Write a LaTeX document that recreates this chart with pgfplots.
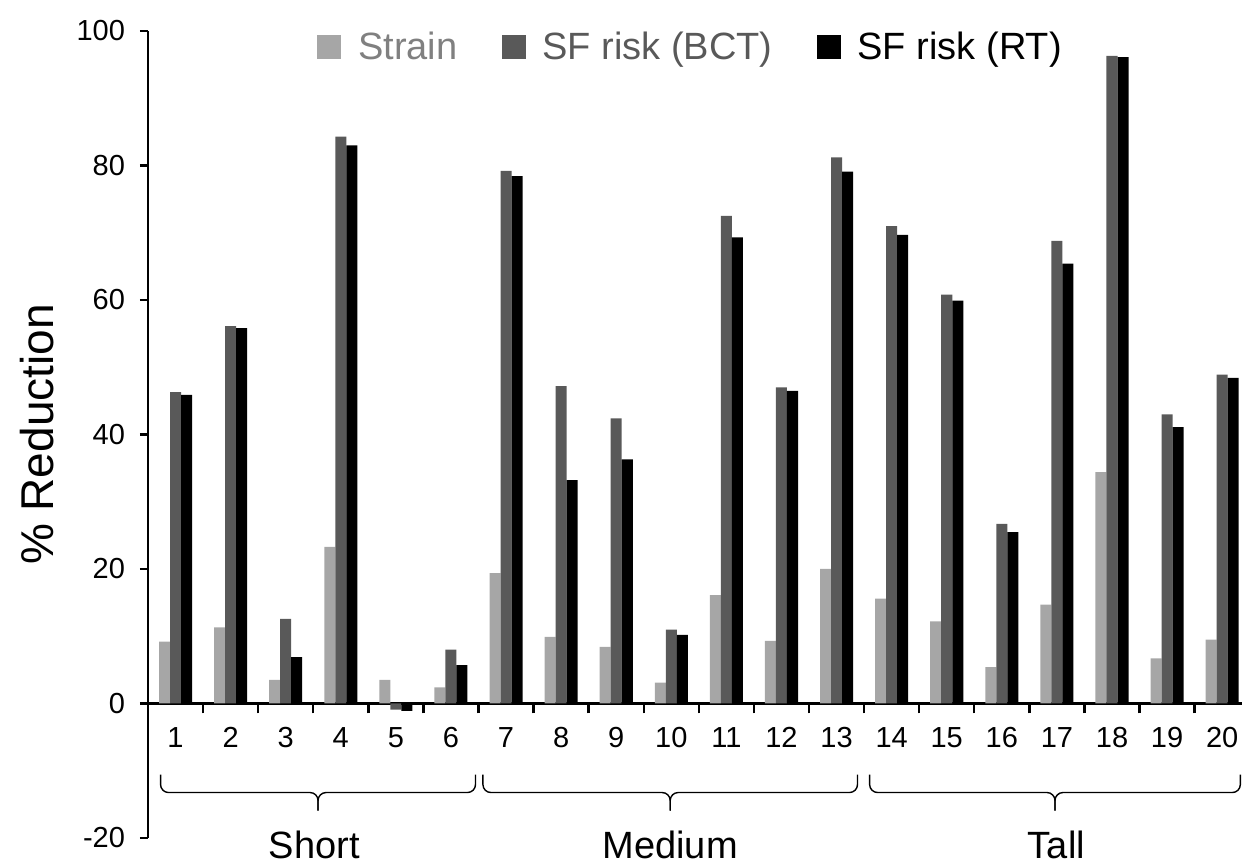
\documentclass[border=0pt]{standalone}
\usepackage{pgfplots}
\pgfplotsset{compat=1.18}
\usepackage{fontspec}
\setmainfont{Liberation Sans}
\definecolor{straincol}{HTML}{A6A6A6}
\definecolor{straintext}{HTML}{808080}
\definecolor{bctcol}{HTML}{595959}
\newcommand{\groupbrace}[3]{% x1, xmid, x2
  \draw[line width=0.7pt, rounded corners=4pt]
    (axis cs:#1,-10.57) -- (axis cs:#1,-13.24) -- (axis cs:#2,-13.24) -- (axis cs:#2,-15.92);
  \draw[line width=0.7pt, rounded corners=4pt]
    (axis cs:#3,-10.57) -- (axis cs:#3,-13.24) -- (axis cs:#2,-13.24) -- (axis cs:#2,-15.92);
}
\begin{document}
\begin{tikzpicture}
\path[use as bounding box] (-74pt,-13.5pt) rectangle (547pt,419pt);
\begin{axis}[
  scale only axis, width=547pt, height=403.5pt,
  at={(0,0)}, anchor=south west,
  xmin=0.5, xmax=20.36, ymin=-20, ymax=100,
  clip=false,
  axis y line=left, axis x line=middle,
  axis line style={-, line width=1.2pt, black},
  every tick/.style={black, line width=1.2pt},
  tick align=outside,
  major tick length=4pt, minor tick length=5pt,
  ytick={-20,0,20,40,60,80,100},
  xtick={1,...,20},
  minor xtick={1.5,2.5,...,19.5},
  major x tick style={draw=none},
  /pgf/number format/assume math mode=true,
  tick label style={font=\fontsize{14.5}{16}\selectfont},
  yticklabel style={xshift=-4pt},
  xticklabel style={yshift=-4.5pt},
  ylabel={\% Reduction},
  ylabel style={at={(axis description cs:-0.1015,0.5)}, anchor=center, font=\fontsize{23}{26}\selectfont},
  ybar=0pt, bar width=0.2,
  legend columns=3,
  legend image code/.code={\fill[#1] (0pt,-6pt) rectangle (12pt,6pt);},
  legend style={at={(axis description cs:0.4968,0.98)}, anchor=center, draw=none, fill=none,
    font=\fontsize{19}{22}\selectfont,
    /tikz/every odd column/.style={column sep=6.5pt},
    /tikz/every even column/.style={column sep=20pt}},
]
\addplot[fill=straincol, draw=none] coordinates {
(1,9.2) (2,11.3) (3,3.5) (4,23.3) (5,3.5) (6,2.4) (7,19.4) (8,9.9) (9,8.4) (10,3.1)
(11,16.1) (12,9.3) (13,20.0) (14,15.6) (15,12.2) (16,5.4) (17,14.7) (18,34.4) (19,6.7) (20,9.5)};
\addlegendentry{\textcolor{straintext}{Strain}}
\addplot[fill=bctcol, draw=none] coordinates {
(1,46.3) (2,56.1) (3,12.6) (4,84.3) (5,-0.9) (6,8.0) (7,79.2) (8,47.2) (9,42.4) (10,11.0)
(11,72.5) (12,47.0) (13,81.2) (14,71.0) (15,60.8) (16,26.7) (17,68.8) (18,96.3) (19,43.0) (20,48.9)};
\addlegendentry{\textcolor{bctcol}{SF risk (BCT)}}
\addplot[fill=black, draw=none] coordinates {
(1,45.9) (2,55.8) (3,6.9) (4,83.0) (5,-1.1) (6,5.7) (7,78.4) (8,33.2) (9,36.3) (10,10.2)
(11,69.3) (12,46.5) (13,79.1) (14,69.7) (15,59.9) (16,25.5) (17,65.4) (18,96.1) (19,41.1) (20,48.4)};
\addlegendentry{SF risk (RT)}
% group braces
\groupbrace{0.728}{3.587}{6.445}
\groupbrace{6.58}{9.98}{13.38}
\groupbrace{13.60}{16.965}{20.33}
\node[anchor=base, font=\fontsize{19}{22}\selectfont] at (axis cs:3.52,-23.0) {Short};
\node[anchor=base, font=\fontsize{19}{22}\selectfont] at (axis cs:9.98,-23.0) {Medium};
\node[anchor=base, font=\fontsize{19}{22}\selectfont] at (axis cs:16.99,-23.0) {Tall};
\end{axis}
\end{tikzpicture}
\end{document}
